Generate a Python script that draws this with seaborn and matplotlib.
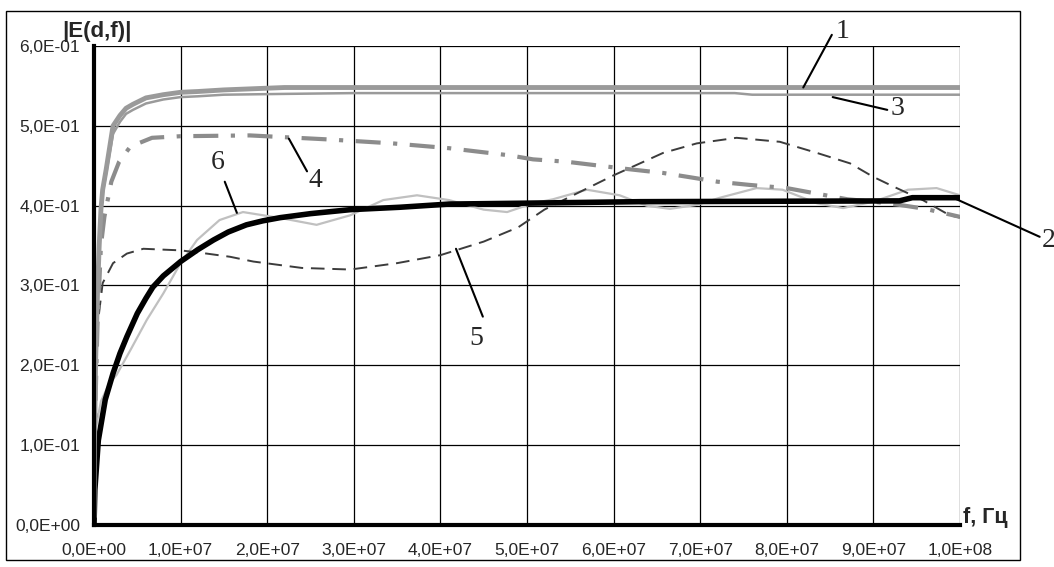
import numpy as np
import matplotlib
matplotlib.use("Agg")
import matplotlib.pyplot as plt
import seaborn as sns
from matplotlib.ticker import FuncFormatter, MultipleLocator
from matplotlib.patches import Rectangle

# частоты в единицах 1e7 Гц, значения |E(d,f)|
f1 = [0, 0.005, 0.02, 0.04, 0.06, 0.08, 0.1, 0.14, 0.22, 0.3, 0.37, 0.45, 0.6, 0.8, 1.0, 1.2, 1.5, 2.2, 3.0, 10.0]
e1 = [0.01, 0.10, 0.21, 0.29, 0.35, 0.395, 0.42, 0.445, 0.50, 0.513, 0.522, 0.527, 0.535, 0.539, 0.542,
      0.543, 0.545, 0.548, 0.548, 0.548]

f3 = [0, 0.005, 0.02, 0.04, 0.06, 0.08, 0.1, 0.14, 0.22, 0.3, 0.37, 0.45, 0.6, 0.8, 1.0, 1.2, 1.5, 2.2, 3.0,
      7.4, 7.6, 10.0]
e3 = [0.01, 0.10, 0.21, 0.29, 0.345, 0.39, 0.415, 0.44, 0.49, 0.505, 0.515, 0.52, 0.528, 0.533, 0.536,
      0.537, 0.539, 0.54, 0.541, 0.541, 0.539, 0.539]

f4 = [0, 0.02, 0.04, 0.08, 0.12, 0.2, 0.29, 0.42, 0.67, 1.0, 1.8, 2.7, 3.45, 4.1, 4.8, 5.07, 5.46,
      6.15, 6.57, 6.86, 7.2, 7.57, 8.0, 8.3, 8.7, 9.0, 9.3, 9.6, 10.0]
e4 = [0.02, 0.165, 0.25, 0.35, 0.386, 0.43, 0.455, 0.474, 0.485, 0.487, 0.488, 0.483, 0.478, 0.472,
      0.463, 0.458, 0.455, 0.446, 0.441, 0.436, 0.43, 0.426, 0.422, 0.416, 0.408, 0.405, 0.401, 0.396, 0.386]

f5 = [0, 0.01, 0.03, 0.1, 0.22, 0.38, 0.57, 1.0, 1.3, 1.57, 1.84, 2.4, 2.96, 3.5, 4.0, 4.5, 4.9, 5.2,
      5.42, 6.0, 6.57, 6.96, 7.42, 7.92, 8.35, 8.73, 9.0, 9.23, 9.57, 9.88, 10.0]
e5 = [0.05, 0.17, 0.24, 0.303, 0.328, 0.34, 0.346, 0.344, 0.34, 0.336, 0.33, 0.322, 0.32, 0.328, 0.338,
      0.355, 0.373, 0.395, 0.407, 0.438, 0.466, 0.478, 0.485, 0.48, 0.466, 0.453, 0.436, 0.424, 0.407, 0.388, 0.385]

f2 = [0, 0.01, 0.05, 0.13, 0.22, 0.3, 0.38, 0.5, 0.6, 0.68, 0.8, 1.0, 1.2, 1.38, 1.55, 1.76, 1.95, 2.15,
      2.5, 2.96, 3.53, 4.1, 4.9, 6.3, 9.3, 9.45, 10.0]
e2 = [0.0, 0.044, 0.106, 0.157, 0.19, 0.215, 0.236, 0.265, 0.284, 0.298, 0.312, 0.33, 0.345, 0.357,
      0.367, 0.376, 0.381, 0.385, 0.39, 0.395, 0.398, 0.402, 0.403, 0.405, 0.406, 0.41, 0.41]

f6 = [0, 0.01, 0.08, 0.18, 0.26, 0.42, 0.61, 0.8, 1.0, 1.19, 1.45, 1.72, 1.95, 2.18, 2.57, 2.96, 3.34,
      3.73, 4.1, 4.5, 4.77, 5.07, 5.3, 5.69, 6.07, 6.38, 6.65, 6.96, 7.23, 7.65, 7.95, 8.35, 8.65, 9.0,
      9.4, 9.73, 10.0]
e6 = [0.06, 0.115, 0.155, 0.178, 0.188, 0.219, 0.257, 0.29, 0.328, 0.357, 0.382, 0.392, 0.388, 0.384,
      0.376, 0.388, 0.407, 0.413, 0.407, 0.395, 0.392, 0.403, 0.408, 0.42, 0.413, 0.40, 0.396, 0.401,
      0.41, 0.422, 0.42, 0.403, 0.397, 0.405, 0.42, 0.422, 0.413]

# номера кривых: (точка на кривой, конец выноски, место цифры) в тех же единицах
labels = {
    "1": ((8.19, 0.548), (8.52, 0.614), (8.64, 0.618)),
    "3": ((8.53, 0.536), (9.16, 0.520), (9.28, 0.522)),
    "4": ((2.25, 0.484), (2.46, 0.443), (2.56, 0.432)),
    "5": ((4.18, 0.346), (4.49, 0.261), (4.41, 0.234)),
    "6": ((1.65, 0.391), (1.51, 0.430), (1.43, 0.454)),
    "2": ((9.92, 0.410), (10.92, 0.361), (11.02, 0.356)),
}

sns.set_style("white")
plt.rcParams['font.family'] = ['Liberation Sans', 'DejaVu Sans']

fig = plt.figure(figsize=(10.54, 5.67), dpi=100)
ax = fig.add_axes([94 / 1054, 1 - 525 / 567, 866 / 1054, 479 / 567])

hz = 1e7
sns.lineplot(x=np.array(f6) * hz, y=e6, ax=ax, color="#c0c0c0", lw=1.6, zorder=3)
sns.lineplot(x=np.array(f5) * hz, y=e5, ax=ax, color="#3c3c3c", lw=1.4, zorder=4,
             linestyle=(0, (7, 4)))
sns.lineplot(x=np.array(f4) * hz, y=e4, ax=ax, color="#8c8c8c", lw=3, zorder=4,
             linestyle=(0, (6, 3, 1, 3)))
sns.lineplot(x=np.array(f2) * hz, y=e2, ax=ax, color="black", lw=4, zorder=5)
sns.lineplot(x=np.array(f3) * hz, y=e3, ax=ax, color="#9a9a9a", lw=1.8, zorder=6)
sns.lineplot(x=np.array(f1) * hz, y=e1, ax=ax, color="#9a9a9a", lw=3.5, zorder=6)

ax.set_xlim(0, 1e8)
ax.set_ylim(0, 0.6)
ax.xaxis.set_major_locator(MultipleLocator(1e7))
ax.yaxis.set_major_locator(MultipleLocator(0.1))
fmt = FuncFormatter(lambda v, p: ("%.1E" % v).replace(".", ","))
ax.xaxis.set_major_formatter(fmt)
ax.yaxis.set_major_formatter(fmt)
ax.set_xlabel("")
ax.set_ylabel("")

ax.grid(True, color="black", lw=0.9)
ax.set_axisbelow(True)
for s in ["top", "right"]:
    ax.spines[s].set_visible(False)
for s in ["left", "bottom"]:
    ax.spines[s].set_linewidth(3)
    ax.spines[s].set_color("black")
    ax.spines[s].set_zorder(7)
ax.tick_params(axis="y", direction="out", length=5, width=1.8, color="black", labelsize=12.5, pad=5)
ax.tick_params(axis="x", direction="out", length=3, width=2.5, color="black", labelsize=12.5, pad=10)

for name, (p0, p1, pt) in labels.items():
    ax.plot([p0[0] * hz, p1[0] * hz], [p0[1], p1[1]], color="black", lw=1.5, clip_on=False, zorder=8)
    ax.text(pt[0] * hz, pt[1], name, ha="center", va="center", fontsize=20,
            family=["Liberation Serif", "DejaVu Serif"], clip_on=False)

fig.text(62 / 1054, 1 - 32 / 567, "|E(d,f)|", ha="left", va="center", fontsize=16, fontweight="bold")
fig.text(963 / 1054, 1 - 518 / 567, "f, Гц", ha="left", va="center", fontsize=15.5, fontweight="bold")

fig.patches.append(Rectangle((6 / 1054, 1 - 560 / 567), 1014 / 1054, 549 / 567,
                             transform=fig.transFigure, fill=False, edgecolor="black", lw=1))

fig.savefig("out.png", dpi=100)
